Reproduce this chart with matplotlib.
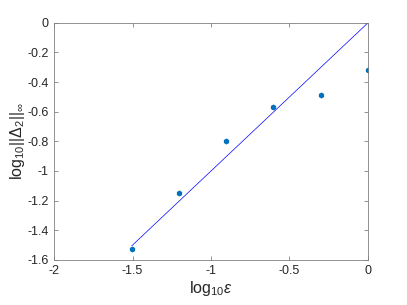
import matplotlib
matplotlib.use("Agg")
import matplotlib.pyplot as plt
import numpy as np

# log10 of epsilon and of the error norm
log_eps = [-1.505, -1.204, -0.903, -0.602, -0.301, 0.0]
log_err = [-1.525, -1.15, -0.795, -0.565, -0.49, -0.32]
ref_x = [-1.505, 0.0]
ref_y = [-1.505, 0.0]

x_ticks = [-2, -1.5, -1, -0.5, 0]
y_ticks = [-1.6, -1.4, -1.2, -1, -0.8, -0.6, -0.4, -0.2, 0]

plt.rcParams["font.family"] = ["Liberation Sans", "DejaVu Sans"]
plt.rcParams["mathtext.fontset"] = "custom"
plt.rcParams["mathtext.rm"] = "Liberation Sans"
plt.rcParams["mathtext.it"] = "Liberation Sans:italic"

fig = plt.figure(figsize=(4.07, 3.05), dpi=100)
ax = fig.add_axes([0.133, 0.148, 0.771, 0.777])

ax.plot(log_eps, log_err, linestyle="none", marker="h", markersize=3.2,
        color="#0072BD")
ax.plot(ref_x, ref_y, color="blue", linewidth=0.5)

ax.set_xlim(-2, 0)
ax.set_ylim(-1.6, 0)
ax.set_xticks(x_ticks)
ax.set_xticklabels(["-2", "-1.5", "-1", "-0.5", "0"])
ax.set_yticks(y_ticks)
ax.set_yticklabels(["-1.6", "-1.4", "-1.2", "-1", "-0.8", "-0.6", "-0.4", "-0.2", "0"])

for side in ax.spines.values():
    side.set_color("#808080")
    side.set_linewidth(0.6)
ax.tick_params(direction="in", length=3, width=0.6, color="#808080",
               labelsize=9, labelcolor="#262626", top=True, right=True, pad=4)

ax.set_xlabel(r"log$_{10}\epsilon$", fontsize=11.5, color="#262626", labelpad=1)
ax.set_ylabel(r"log$_{10}$||$\Delta_2$||$_\infty$", fontsize=11.5, color="#262626",
              labelpad=0)

fig.savefig("out.png", dpi=100)
